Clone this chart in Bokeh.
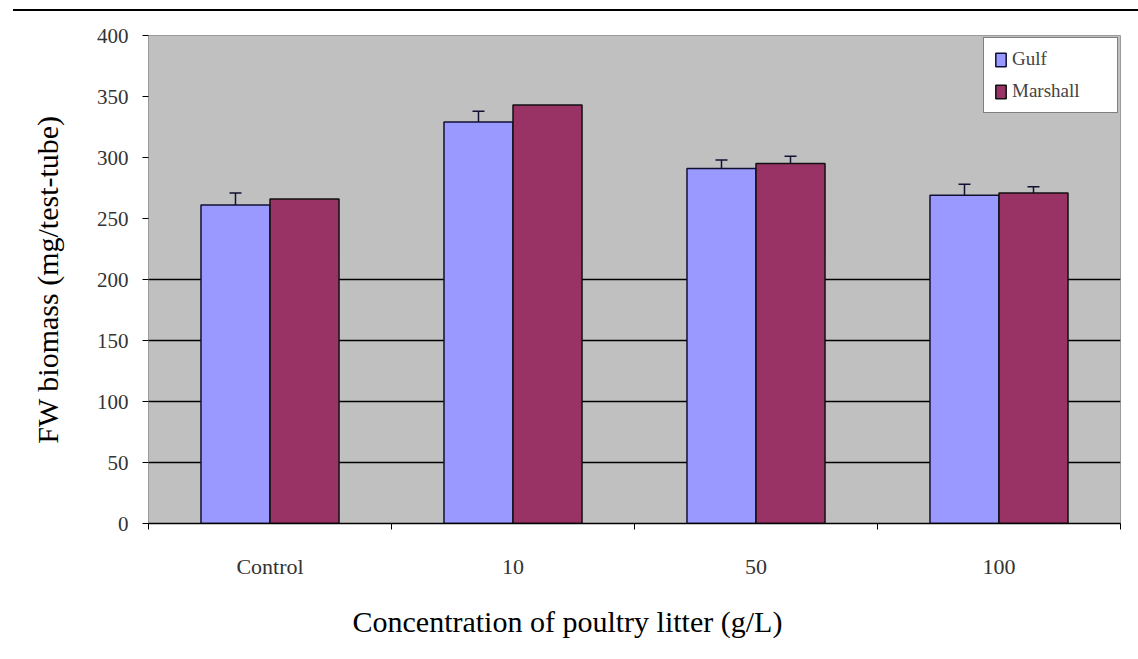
from bokeh.plotting import figure
from bokeh.models import (Range1d, FixedTicker, Title, Legend, LegendItem, Whisker,
                          ColumnDataSource, Div, TeeHead)
from bokeh.layouts import column
from bokeh.embed import file_html
from bokeh.resources import INLINE

# ---- data ----
categories = ["Control", "10", "50", "100"]
gulf = [261, 329, 291, 269]
marshall = [266, 343, 295, 271]
gulf_err = [10, 9, 7, 9]
marshall_err = [0, 0, 6, 5]
y_ticks = [0, 50, 100, 150, 200, 250, 300, 350, 400]
grid_ticks = [50, 100, 150, 200]

GULF_COLOR = "#9999FF"
MARSH_COLOR = "#993366"
FONT = "Liberation Serif"
bw = 0.284

n = len(categories)
centers = [i + 0.5 for i in range(n)]
gulf_x = [c - bw / 2 for c in centers]
marsh_x = [c + bw / 2 for c in centers]

p = figure(width=1133, height=648, x_range=Range1d(0, n), y_range=Range1d(0, 400),
           output_backend="svg", toolbar_location=None,
           min_border_left=148, min_border_right=13, min_border_top=24, min_border_bottom=136)
p.background_fill_color = "#C0C0C0"
p.border_fill_color = "white"
p.outline_line_color = "#9a9a9a"
p.outline_line_width = 1

# grid
p.xgrid.grid_line_color = None
p.ygrid.ticker = FixedTicker(ticks=grid_ticks)
p.ygrid.grid_line_color = "black"
p.ygrid.grid_line_width = 1.3

# y axis
p.yaxis.ticker = FixedTicker(ticks=y_ticks)
p.yaxis.axis_line_color = None
p.yaxis.major_tick_line_color = "black"
p.yaxis.major_tick_out = 6
p.yaxis.major_tick_in = 0
p.yaxis.minor_tick_line_color = None
p.yaxis.major_label_standoff = 14
p.yaxis.major_label_text_font = FONT
p.yaxis.major_label_text_font_size = "21px"
p.yaxis.major_label_text_color = "#333333"
p.yaxis.axis_label = "FW biomass (mg/test-tube)"
p.yaxis.axis_label_text_font = FONT
p.yaxis.axis_label_text_font_size = "30px"
p.yaxis.axis_label_text_font_style = "normal"
p.yaxis.axis_label_text_color = "black"
p.yaxis.axis_label_standoff = 30

# x axis: labels at centres, ticks at category boundaries
p.xaxis.ticker = FixedTicker(ticks=centers, minor_ticks=list(range(n + 1)))
p.xaxis.major_label_overrides = {c: lab for c, lab in zip(centers, categories)}
p.xaxis.axis_line_color = "black"
p.xaxis.axis_line_width = 1.5
p.xaxis.major_tick_line_color = None
p.xaxis.major_tick_out = 0
p.xaxis.major_tick_in = 0
p.xaxis.minor_tick_line_color = "black"
p.xaxis.minor_tick_out = 6
p.xaxis.minor_tick_in = 0
p.xaxis.major_label_standoff = 24
p.xaxis.major_label_text_font = FONT
p.xaxis.major_label_text_font_size = "22px"
p.xaxis.major_label_text_color = "#333333"

# bars
src_g = ColumnDataSource(dict(x=gulf_x, top=gulf,
                              upper=[v + e for v, e in zip(gulf, gulf_err)],
                              lower=[v - e for v, e in zip(gulf, gulf_err)]))
src_m = ColumnDataSource(dict(x=marsh_x, top=marshall))
rg = p.vbar(x="x", top="top", width=bw, bottom=0, source=src_g,
            fill_color=GULF_COLOR, line_color="#111133", line_width=1.5)
rm = p.vbar(x="x", top="top", width=bw, bottom=0, source=src_m,
            fill_color=MARSH_COLOR, line_color="#111111", line_width=1.5)

# error bars (only where an error exists)
me_x = [x for x, e in zip(marsh_x, marshall_err) if e > 0]
me_v = [v for v, e in zip(marshall, marshall_err) if e > 0]
me_e = [e for e in marshall_err if e > 0]
src_me = ColumnDataSource(dict(x=me_x, upper=[v + e for v, e in zip(me_v, me_e)],
                               lower=[v - e for v, e in zip(me_v, me_e)]))
for s in (src_g, src_me):
    w = Whisker(source=s, base="x", upper="upper", lower="lower",
                line_color="#111133", line_width=1.5,
                upper_head=TeeHead(size=12, line_color="#111133", line_width=1.5),
                lower_head=TeeHead(size=12, line_color="#111133", line_width=1.5))
    p.add_layout(w)

# legend
legend = Legend(items=[LegendItem(label="Gulf", renderers=[rg]),
                       LegendItem(label="Marshall", renderers=[rm])],
                location="top_right", margin=2, padding=10, spacing=10,
                glyph_width=13, glyph_height=17, label_standoff=5, label_width=95,
                label_height=20,
                label_text_font=FONT, label_text_font_size="19px",
                background_fill_color="white", background_fill_alpha=1.0,
                border_line_color="black", border_line_width=1)
p.add_layout(legend)

# x title (below the category labels)
xtitle = Title(text="Concentration of poultry litter (g/L)", align="left", offset=204,
               text_font=FONT, text_font_size="30px", text_font_style="normal",
               text_color="black", standoff=43)
p.add_layout(xtitle, "below")

top_line = Div(text="", width=1125, height=2, margin=(9, 0, 0, 13),
               styles={"background-color": "black"})

layout = column(top_line, p, spacing=0)
open("out.html", "w").write(file_html(layout, INLINE))
